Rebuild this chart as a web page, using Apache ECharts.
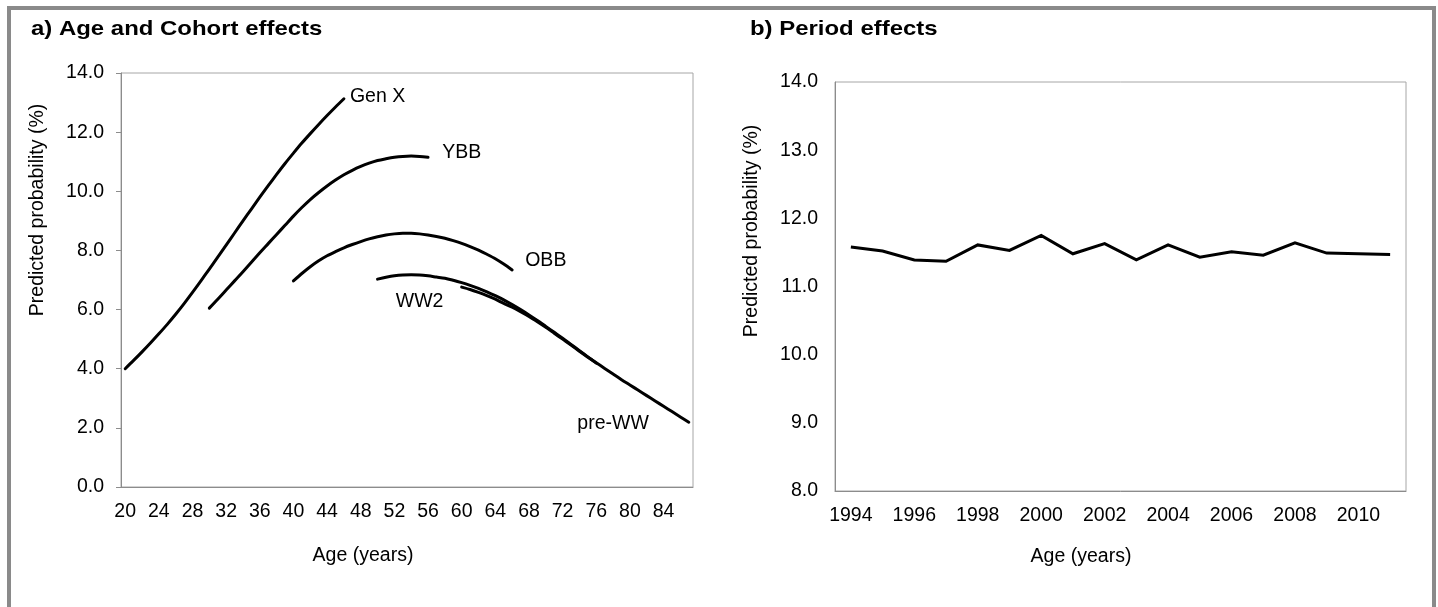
<!DOCTYPE html>
<html>
<head>
<meta charset="utf-8">
<script src="https://cdn.jsdelivr.net/npm/echarts@6/dist/echarts.min.js"></script>
<style>
  html, body { margin: 0; padding: 0; background: #fff; }
  #main { width: 1438px; height: 607px; }
</style>
</head>
<body>
<div id="main"></div>
<script>
// a) ages on the category axis
var ages = [20, 21, 22, 23, 24, 25, 26, 27, 28, 29, 30, 31, 32, 33, 34, 35, 36, 37, 38, 39,
  40, 41, 42, 43, 44, 45, 46, 47, 48, 49, 50, 51, 52, 53, 54, 55, 56, 57, 58, 59,
  60, 61, 62, 63, 64, 65, 66, 67, 68, 69, 70, 71, 72, 73, 74, 75, 76, 77, 78, 79,
  80, 81, 82, 83, 84, 85, 86, 87];

// cohort curves, each starting at its first age
var genXStart = 20;
var genX = [4.00, 4.28, 4.57, 4.87, 5.18, 5.50, 5.84, 6.20, 6.58, 6.97, 7.37, 7.77, 8.18, 8.59,
  9.00, 9.40, 9.80, 10.19, 10.57, 10.94, 11.29, 11.63, 11.95, 12.26, 12.56, 12.85, 13.13];
var ybbStart = 30;
var ybb = [6.05, 6.35, 6.66, 6.97, 7.28, 7.60, 7.92, 8.23, 8.54, 8.85, 9.16, 9.45, 9.72, 9.96,
  10.18, 10.38, 10.56, 10.71, 10.84, 10.95, 11.04, 11.10, 11.15, 11.18, 11.19, 11.18, 11.15];
var obbStart = 40;
var obb = [6.97, 7.22, 7.45, 7.65, 7.82, 7.96, 8.09, 8.20, 8.30, 8.39, 8.46, 8.52, 8.56, 8.58,
  8.58, 8.56, 8.52, 8.47, 8.41, 8.33, 8.24, 8.13, 8.01, 7.87, 7.72, 7.54, 7.34];
var ww2Start = 50;
var ww2 = [7.03, 7.09, 7.14, 7.17, 7.18, 7.17, 7.14, 7.10, 7.06, 6.99, 6.91, 6.82, 6.72, 6.60,
  6.47, 6.33, 6.17, 6.00, 5.82, 5.63, 5.43, 5.23, 5.03, 4.82, 4.61, 4.40, 4.19];
var preWWStart = 60;
var preWW = [6.76, 6.68, 6.58, 6.47, 6.35, 6.21, 6.08, 5.93, 5.77, 5.59, 5.40, 5.20, 5.00, 4.80,
  4.59, 4.39, 4.20, 4.01, 3.82, 3.63, 3.45, 3.27, 3.09, 2.91, 2.73, 2.55, 2.37, 2.19];

// b) period effects
var years = [1994, 1995, 1996, 1997, 1998, 1999, 2000, 2001, 2002, 2003, 2004, 2005, 2006,
  2007, 2008, 2009, 2010, 2011];
var period = [11.58, 11.52, 11.39, 11.37, 11.61, 11.53, 11.75, 11.48, 11.63, 11.39, 11.61,
  11.43, 11.51, 11.46, 11.64, 11.49, 11.48, 11.47];

var font = 'Liberation Sans, Arial, Helvetica, sans-serif';
var axisGray = '#8c8c8c';

function cohort(name, start, values, labelAt) {
  return {
    name: name,
    type: 'line',
    xAxisIndex: 0,
    yAxisIndex: 0,
    smooth: 0.3,
    symbol: 'none',
    lineStyle: { color: '#000', width: 3, cap: 'round', join: 'round' },
    data: values.map(function (v, i) { return [String(start + i), v]; }),
    markPoint: {
      symbol: 'circle',
      symbolSize: 0,
      silent: true,
      label: { show: true, formatter: name, color: '#000', fontSize: 19.5, fontFamily: font },
      data: [{ coord: labelAt }]
    }
  };
}

var option = {
  backgroundColor: '#fff',
  animation: false,
  grid: [
    { left: 121, top: 73, width: 572, height: 414, show: true, borderColor: '#a6a6a6', borderWidth: 1, outerBoundsMode: 'none' },
    { left: 835, top: 82, width: 571, height: 409, show: true, borderColor: '#a6a6a6', borderWidth: 1, outerBoundsMode: 'none' }
  ],
  xAxis: [
    {
      gridIndex: 0, type: 'category', boundaryGap: true,
      data: ages.map(String),
      axisLine: { lineStyle: { color: axisGray, width: 1 } },
      axisTick: { inside: true, length: 4, interval: 3, lineStyle: { color: axisGray } },
      axisLabel: { interval: 3, margin: 15, color: '#000', fontSize: 19.5, fontFamily: font },
      splitLine: { show: false }
    },
    {
      gridIndex: 1, type: 'category', boundaryGap: true,
      data: years.map(String),
      axisLine: { lineStyle: { color: axisGray, width: 1 } },
      axisTick: { inside: true, length: 5, interval: 1, lineStyle: { color: axisGray } },
      axisLabel: { interval: 1, margin: 15, color: '#000', fontSize: 19.5, fontFamily: font },
      splitLine: { show: false }
    }
  ],
  yAxis: [
    {
      gridIndex: 0, type: 'value', min: 0, max: 14, interval: 2,
      axisLine: { show: true, lineStyle: { color: axisGray, width: 1 } },
      axisTick: { show: true, length: 5, lineStyle: { color: axisGray } },
      axisLabel: { margin: 17, color: '#000', fontSize: 19.5, fontFamily: font,
        formatter: function (v) { return v.toFixed(1); } },
      splitLine: { show: false }
    },
    {
      gridIndex: 1, type: 'value', min: 8, max: 14, interval: 1,
      axisLine: { show: true, lineStyle: { color: axisGray, width: 1 } },
      axisTick: { show: false },
      axisLabel: { margin: 17, color: '#000', fontSize: 19.5, fontFamily: font,
        formatter: function (v) { return v.toFixed(1); } },
      splitLine: { show: false }
    }
  ],
  series: [
    cohort('Gen X', genXStart, genX, ['50', 13.19]),
    cohort('YBB', ybbStart, ybb, ['60', 11.3]),
    cohort('OBB', obbStart, obb, ['70', 7.64]),
    cohort('WW2', ww2Start, ww2, ['55', 6.26]),
    cohort('pre-WW', preWWStart, preWW, ['78', 2.16]),
    {
      name: 'Period',
      type: 'line',
      xAxisIndex: 1,
      yAxisIndex: 1,
      symbol: 'none',
      lineStyle: { color: '#000', width: 3, join: 'miter' },
      data: period
    }
  ],
  graphic: [
    // outer frame
    { type: 'rect', shape: { x: 9, y: 8, width: 1425, height: 700 },
      style: { fill: 'none', stroke: '#8a8a8a', lineWidth: 4 }, silent: true },
    // panel titles
    { type: 'text', x: 31, y: 29, scaleX: 1.14,
      style: { text: 'a) Age and Cohort effects', fill: '#000', fontSize: 21, fontWeight: 'bold',
        fontFamily: font, verticalAlign: 'middle' } },
    { type: 'text', x: 750, y: 29, scaleX: 1.14,
      style: { text: 'b) Period effects', fill: '#000', fontSize: 21, fontWeight: 'bold',
        fontFamily: font, verticalAlign: 'middle' } },
    // axis names
    { type: 'text', x: 38, y: 210, rotation: Math.PI / 2,
      style: { text: 'Predicted probability (%)', fill: '#000', fontSize: 19.5, fontFamily: font,
        align: 'center', verticalAlign: 'middle' } },
    { type: 'text', x: 752, y: 231, rotation: Math.PI / 2,
      style: { text: 'Predicted probability (%)', fill: '#000', fontSize: 19.5, fontFamily: font,
        align: 'center', verticalAlign: 'middle' } },
    { type: 'text', x: 363, y: 556,
      style: { text: 'Age (years)', fill: '#000', fontSize: 19.5, fontFamily: font,
        align: 'center', verticalAlign: 'middle' } },
    { type: 'text', x: 1081, y: 557,
      style: { text: 'Age (years)', fill: '#000', fontSize: 19.5, fontFamily: font,
        align: 'center', verticalAlign: 'middle' } }
  ]
};

var myChart = echarts.init(document.getElementById('main'));
myChart.setOption(option);
</script>
</body>
</html>
